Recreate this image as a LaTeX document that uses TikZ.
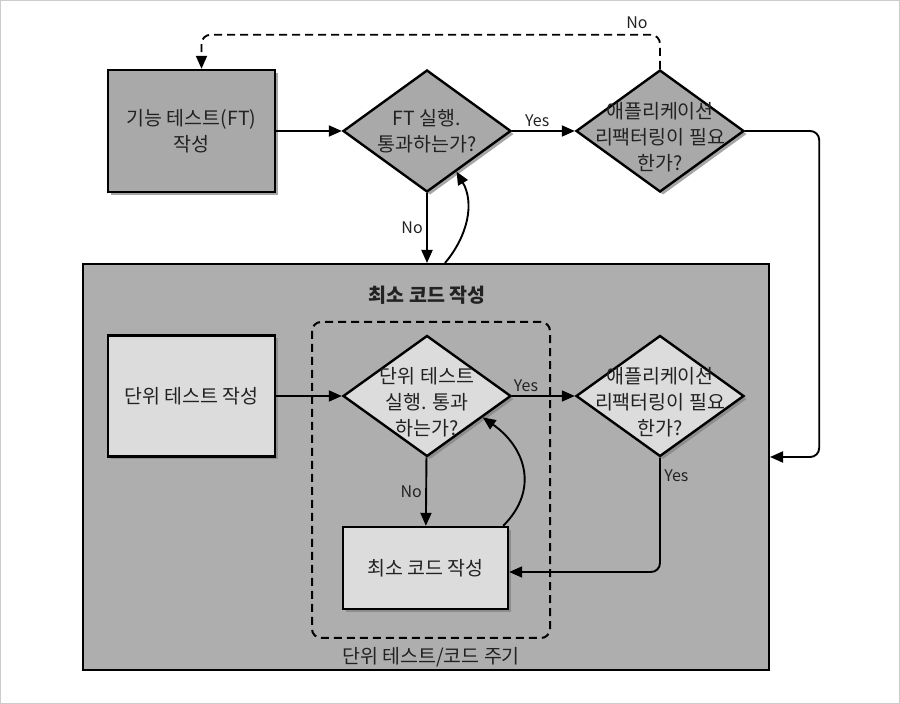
\documentclass[tikz,border=0pt]{standalone}
\usepackage{fontspec}
\setmainfont{Noto Sans CJK KR}
\usetikzlibrary{shapes.geometric,arrows.meta,shadows}
\definecolor{darkfill}{HTML}{A9A9A9}
\definecolor{lightfill}{HTML}{DCDCDC}
\definecolor{areafill}{HTML}{AEAEAE}
\definecolor{ink}{HTML}{222222}
\begin{document}
\begin{tikzpicture}[x=1pt,y=1pt,
    txt/.style={font=\fontsize{19.5}{26}\selectfont, text=ink, align=center},
    lbl/.style={font=\fontsize{16}{18}\selectfont, text=ink},
    castshadow/.style={drop shadow={shadow xshift=3pt,shadow yshift=-3pt,opacity=.7}},
    boxdark/.style={txt, draw=black, line width=2.4pt, fill=darkfill, minimum width=167pt, minimum height=122pt, castshadow},
    boxlight/.style={boxdark, fill=lightfill},
    diam/.style={diamond, draw=black, line width=2.4pt, fill=darkfill, minimum width=168pt, minimum height=122pt, inner sep=0pt, castshadow},
    workarea/.style={draw=black, line width=2pt, fill=areafill},
    loopbox/.style={draw=black, line width=2pt, dash pattern=on 8pt off 5pt, rounded corners=9pt},
    arr/.style={-{Triangle[length=13pt,width=11pt]}, line width=1.9pt, draw=black}]
  \useasboundingbox (0,0) rectangle (900,704);
  \draw[gray!40, line width=2pt] (0,0) rectangle (900,704);

  % outer area and the unit test / code loop
  \node[workarea, minimum width=686pt, minimum height=406pt] (work) at (426,237) {};
  \node[txt, font=\fontsize{19.5}{26}\selectfont\bfseries] (worktitle) at (427,409) {최소 코드 작성};
  \node[loopbox, minimum width=238pt, minimum height=316pt] (loop) at (431,224) {};
  \node[txt] (looptitle) at ([yshift=-18pt]loop.south) {단위 테스트/코드 주기};

  % top row
  \node[boxdark] (ftwrite) at (191.5,573) {기능 테스트(FT)\\작성};
  \node[diam, label={[txt]center:{FT 실행.\\통과하는가?}}] (ftrun) at (427,573) {};
  \node[diam, label={[txt,yshift=-6pt]center:{애플리케이션\\리팩터링이 필요\\한가?}}] (refac1) at (660,573) {};

  % inner row
  \node[boxlight, minimum height=121pt] (unitwrite) at (191.5,308) {단위 테스트 작성};
  \node[diam, fill=lightfill, minimum height=121pt, label={[txt,yshift=-6pt]center:{단위 테스트\\실행. 통과\\하는가?}}] (unitrun) at (427,308) {};
  \node[diam, fill=lightfill, minimum height=121pt, label={[txt,yshift=-6pt]center:{애플리케이션\\리팩터링이 필요\\한가?}}] (refac2) at (660,308) {};
  \node[boxlight, minimum width=165pt, minimum height=82pt] (mincode) at (425.5,136) {최소 코드 작성};

  % connectors
  \draw[arr] (ftwrite) -- (ftrun);
  \draw[arr] (ftrun) -- node[lbl, above, pos=0.4] {Yes} (refac1);
  \draw[arr] (ftrun) -- node[lbl, left] {No} (ftrun.south |- work.north);
  \draw[arr] ([xshift=18pt]ftrun.south |- work.north) to[out=50,in=-60] (ftrun.-54);
  \draw[arr, dash pattern=on 8pt off 5pt, rounded corners=9pt] (refac1.north) -- ++(0,34) -| ([xshift=10pt]ftwrite.north);
  \node[lbl] (nolabel) at (637,681) {No};
  \draw[arr, rounded corners=9pt] (refac1.east) -- ++(74,0) |- ([yshift=10pt]work.east);

  \draw[arr] (unitwrite) -- (unitrun);
  \draw[arr] (unitrun) -- node[lbl, above, pos=0.22] {Yes} (refac2);
  \draw[arr] (unitrun) -- node[lbl, left] {No} (mincode);
  \draw[arr, rounded corners=9pt] (refac2.south) |- node[lbl, pos=0.08, right] {Yes} ([yshift=-4pt]mincode.east);
  \draw[arr] ([xshift=-6pt]mincode.north east) to[out=45,in=-35,looseness=1.2] (unitrun.-21);
\end{tikzpicture}
\end{document}
